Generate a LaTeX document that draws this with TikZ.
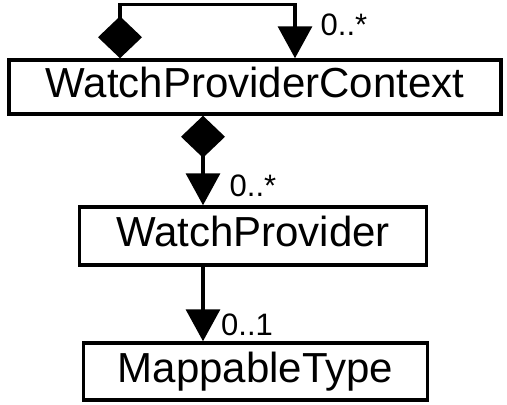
\documentclass[tikz,border=0pt]{standalone}
\usepackage{fontspec}
\setmainfont{Liberation Sans}
\usetikzlibrary{arrows.meta,positioning}

\tikzset{
  umlclass/.style={draw,line width=3.5pt,inner sep=0pt,text height=31pt,text depth=10pt,font=\fontsize{42}{48}\selectfont},
  assoc/.style={line width=3.5pt,-{Triangle[length=32pt,width=34pt]}},
  compos/.style={line width=3.5pt,{Diamond[length=42pt,width=44pt]}-{Triangle[length=32pt,width=34pt]}},
  mult/.style={inner sep=0pt,font=\fontsize{31}{34}\selectfont}
}

\begin{document}
\begin{tikzpicture}[x=1pt,y=-1pt]
\useasboundingbox (0,0) rectangle (507,405);
\node[umlclass,minimum width=492pt,minimum height=54pt] (ctx) at (255,87) {WatchProviderContext};
\node[umlclass,minimum width=347pt,minimum height=58pt] (wp) at (253,236) {WatchProvider};
\node[umlclass,minimum width=344pt,minimum height=57pt] (mt) at (255.5,371.5) {MappableType};
% self association of the context
\draw[compos] ([xshift=-135pt]ctx.north) -- ++(0,-54) -| ([xshift=40pt]ctx.north);
\node[mult] (m1) at (344,25) {0..*};
% context owns providers
\draw[compos] ([xshift=-52pt]ctx.south) -- ([xshift=-50pt]wp.north);
\node[mult] (m2) at (253,186) {0..*};
% provider refers to a type
\draw[assoc] ([xshift=-50pt]wp.south) -- ([xshift=-52.5pt]mt.north);
\node[mult] (m3) at (247,325) {0..1};
\end{tikzpicture}
\end{document}
